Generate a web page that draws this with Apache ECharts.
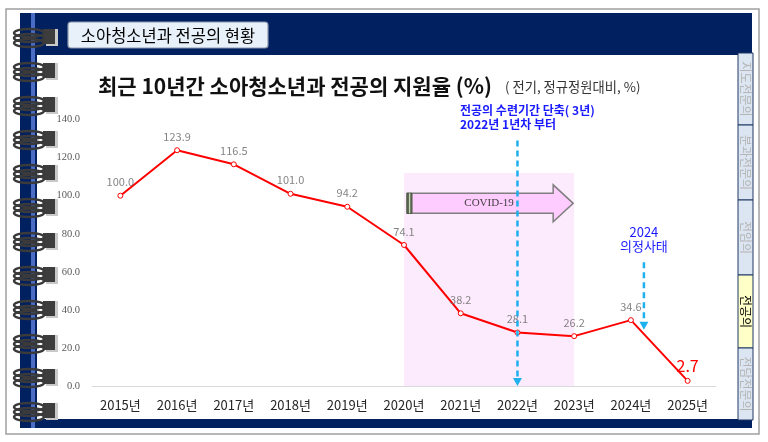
<!DOCTYPE html>
<html>
<head>
<meta charset="utf-8">
<script src="https://cdn.jsdelivr.net/npm/echarts@6/dist/echarts.min.js"></script>
<style>
html,body{margin:0;padding:0;background:#fff;}
#c{width:768px;height:442px;}
</style>
</head>
<body>
<div id="c"></div>
<script>
const years = ['2015년','2016년','2017년','2018년','2019년','2020년','2021년','2022년','2023년','2024년','2025년'];
const rates = [100.0,123.9,116.5,101.0,94.2,74.1,38.2,28.1,26.2,34.6,2.7];
const yMin = 0, yMax = 140, yStep = 20;
const tabs = ['지도전문의','분과전문의','전임의','전공의','전담전문의'];
const activeTab = '전공의';
const covidSpan = ['2020년','2023년'];
const covidTop = 112;

const FONT = "'Noto Sans CJK KR','Noto Sans',sans-serif";
const chart = echarts.init(document.getElementById('c'), null, {renderer:'canvas'});

const seriesData = rates.map((v, i) => i === rates.length - 1
  ? {value: v, label: {color: '#ff0000', fontSize: 16, distance: 4}}
  : v);

chart.setOption({
  animation: false,
  backgroundColor: 'transparent',
  grid: {left: 92, right: 52, top: 119.6, bottom: 56, containLabel: false},
  xAxis: {
    type: 'category', data: years, boundaryGap: true,
    axisLine: {lineStyle: {color: '#d9d9d9', width: 1}},
    axisTick: {show: false},
    axisLabel: {color: '#262626', fontSize: 13, fontFamily: FONT, margin: 13}
  },
  yAxis: {
    type: 'value', min: yMin, max: yMax, interval: yStep,
    axisLine: {show: false}, axisTick: {show: false},
    splitLine: {show: false},
    axisLabel: {color: '#595959', fontSize: 10.5, fontFamily: "'Liberation Serif','DejaVu Serif',serif",
      margin: 12, formatter: v => v.toFixed(1)}
  },
  series: [{
    type: 'line', data: seriesData,
    lineStyle: {color: '#ff0000', width: 2},
    itemStyle: {color: '#ffffff', borderColor: '#ff0000', borderWidth: 1},
    symbol: 'circle', symbolSize: 5,
    label: {show: true, position: 'top', distance: 5, color: 'rgba(110,110,110,0.85)', fontSize: 11,
      fontFamily: FONT, formatter: p => Number(p.value).toFixed(1)},
    markArea: {
      silent: true,
      itemStyle: {color: '#fcebfc'},
      data: [[{xAxis: covidSpan[0], yAxis: 0}, {xAxis: covidSpan[1], yAxis: covidTop}]]
    },
    z: 5
  }]
});

const px = c => chart.convertToPixel({xAxisIndex: 0}, c);
const py = v => chart.convertToPixel({yAxisIndex: 0}, v);

const g = [];
// outer frame
g.push({type:'rect', z:-100, shape:{x:6,y:9,width:753,height:425}, style:{fill:'#fff', stroke:'#a0a0a0', lineWidth:1.5}, silent:true});
g.push({type:'rect', z:-99, shape:{x:20,y:13,width:732,height:415}, style:{fill:'#002060'}, silent:true});
g.push({type:'rect', z:-98, shape:{x:37,y:55,width:701,height:364}, style:{fill:'#ffffff'}, silent:true});
// blue stripe of binding
g.push({type:'rect', z:-97, shape:{x:31,y:13,width:4,height:415}, style:{fill:'#4a6cc4'}, silent:true});
// rings
for (let i = 0; i < 12; i++) {
  const c = 38 + i * 34;
  g.push({type:'rect', z:-96, shape:{x:46,y:c-9,width:12,height:17}, style:{fill:'#c9c9c9'}, silent:true});
  g.push({type:'rect', z:-95, shape:{x:43,y:c-9,width:12,height:15}, style:{fill:'#3d3d3d'}, silent:true});
  [-5, 0, 5].forEach(o => {
    g.push({type:'ellipse', z:-94, shape:{cx:29,cy:c+o,rx:15,ry:4}, style:{fill:null, stroke:'#3a3a3a', lineWidth:2.4}, silent:true});
  });
}
// tabs
const tabY = [53,125,200,275,348,420];
tabs.forEach((t, i) => {
  const act = t === activeTab;
  g.push({type:'rect', z:-90, shape:{x:738,y:tabY[i],width:15,height:tabY[i+1]-tabY[i]},
    style:{fill: act ? '#ffffc8' : '#dce6f2', stroke:'#1f3864', lineWidth:1}, silent:true});
  g.push({type:'text', z:-89, x:745.5, y:(tabY[i]+tabY[i+1])/2, rotation:-Math.PI/2,
    style:{text:t, fill: act ? '#000' : '#b4b4b4', font:`12px ${FONT}`, textAlign:'center', textVerticalAlign:'middle'}, silent:true});
});
// section box
g.push({type:'rect', z:-80, shape:{x:68,y:22,width:200,height:26,r:3}, style:{fill:'#e8f0fa', stroke:'#8a98ad', lineWidth:1.2}, silent:true});
g.push({type:'text', z:-79, x:168, y:35.5, style:{text:'소아청소년과 전공의 현황', fill:'#000', font:`16.5px ${FONT}`, textAlign:'center', textVerticalAlign:'middle'}, silent:true});
// title
g.push({type:'text', z:10, x:98, y:86, style:{text:'최근 10년간 소아청소년과 전공의 지원율 (%)', fill:'#111', font:`bold 21px ${FONT}`, textAlign:'left', textVerticalAlign:'middle'}, silent:true});
g.push({type:'text', z:10, x:505, y:87, style:{text:'( 전기, 정규정원대비, %)', fill:'#333', font:`13.3px ${FONT}`, textAlign:'left', textVerticalAlign:'middle'}, silent:true});

// COVID arrow
const xl = px(covidSpan[0]) + 3, xr = px(covidSpan[1]) - 1, yc = py(96);
const bh = 10, hh = 18.5, hl = 20;
g.push({type:'polygon', z:8, shape:{points:[[xl,yc-bh],[xr-hl,yc-bh],[xr-hl,yc-hh],[xr,yc],[xr-hl,yc+hh],[xr-hl,yc+bh],[xl,yc+bh]]},
  style:{fill:'#ffccff', stroke:'#7f7f7f', lineWidth:1.5}, silent:true});
g.push({type:'rect', z:9, shape:{x:xl,y:yc-bh,width:5,height:bh*2}, style:{fill:'#5f6e52', stroke:'#4a5640', lineWidth:1}, silent:true});
g.push({type:'rect', z:9, shape:{x:xl+2,y:yc-bh,width:1.2,height:bh*2}, style:{fill:'#c9d3bf'}, silent:true});
g.push({type:'text', z:9, x:(xl+xr)/2 - 1, y:yc, style:{text:'COVID-19', fill:'#404040', font:"11px 'Liberation Serif','DejaVu Serif',serif", textAlign:'center', textVerticalAlign:'middle'}, silent:true});

// dashed arrow helper
function dashedArrow(x, y1, y2) {
  g.push({type:'line', z:12, shape:{x1:x,y1:y1,x2:x,y2:y2-6}, style:{stroke:'#1fb0ee', lineWidth:2.5, lineDash:[6,4]}, silent:true});
  g.push({type:'polygon', z:12, shape:{points:[[x-4.5,y2-8],[x+4.5,y2-8],[x,y2]]}, style:{fill:'#1fb0ee'}, silent:true});
}
const x22 = px('2022년');
dashedArrow(x22, py(129), py(0));
const x24 = px('2024년') + 13;
dashedArrow(x24, py(65), py(29.5));

// annotation texts
g.push({type:'text', z:12, x:460, y:110, style:{text:'전공의 수련기간 단축( 3년)', fill:'#1a1aff', font:`bold 12px ${FONT}`, textAlign:'left', textVerticalAlign:'middle'}, silent:true});
g.push({type:'text', z:12, x:460, y:124, style:{text:'2022년 1년차 부터', fill:'#1a1aff', font:`bold 12px ${FONT}`, textAlign:'left', textVerticalAlign:'middle'}, silent:true});
g.push({type:'text', z:12, x:x24, y:232, style:{text:'2024', fill:'#1a1aff', font:`13px ${FONT}`, textAlign:'center', textVerticalAlign:'middle'}, silent:true});
g.push({type:'text', z:12, x:x24, y:246, style:{text:'의정사태', fill:'#1a1aff', font:`13px ${FONT}`, textAlign:'center', textVerticalAlign:'middle'}, silent:true});

chart.setOption({graphic: {elements: g}});
</script>
</body>
</html>
